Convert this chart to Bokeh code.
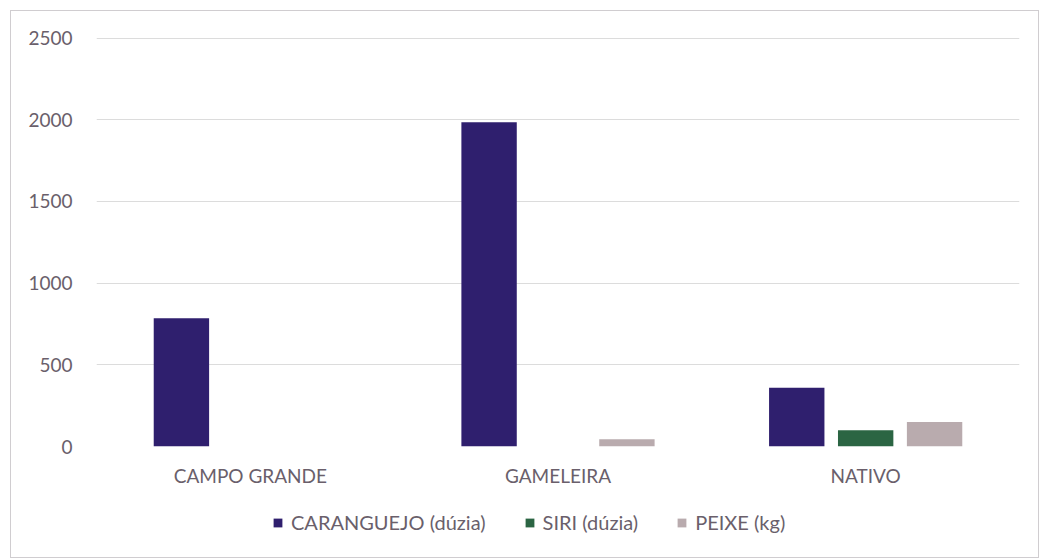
from bokeh.plotting import figure
from bokeh.layouts import column
from bokeh.models import ColumnDataSource, FactorRange, Legend, LegendItem, Range1d, FixedTicker
from bokeh.transform import dodge
from bokeh.embed import file_html
from bokeh.resources import INLINE

categories = ["CAMPO GRANDE", "GAMELEIRA", "NATIVO"]
series_names = ["CARANGUEJO (dúzia)", "SIRI (dúzia)", "PEIXE (kg)"]
caranguejo = [785, 1985, 360]
siri = [0, 0, 100]
peixe = [0, 45, 150]
y_ticks = [0, 500, 1000, 1500, 2000, 2500]

colors = ["#2f1f6e", "#2b6543", "#b9abae"]
FONT = "Lato"
TEXT = "#6a5f6b"

source = ColumnDataSource(dict(cat=categories, car=caranguejo, siri=siri, peixe=peixe))

W = 1027
p = figure(x_range=FactorRange(*categories, range_padding=0), y_range=Range1d(0, 2504),
           width=W, height=480, output_backend="svg", toolbar_location=None,
           min_border_left=85, min_border_right=19, min_border_top=26, min_border_bottom=45)

step = 0.224
w = 0.18
r1 = p.vbar(x=dodge("cat", -step, range=p.x_range), top="car", width=w, source=source,
            fill_color=colors[0], line_color=None)
r2 = p.vbar(x=dodge("cat", 0, range=p.x_range), top="siri", width=w, source=source,
            fill_color=colors[1], line_color=None)
r3 = p.vbar(x=dodge("cat", step, range=p.x_range), top="peixe", width=w, source=source,
            fill_color=colors[2], line_color=None)

p.outline_line_color = None
p.xgrid.grid_line_color = None
p.ygrid.grid_line_color = "#dcdcdc"
p.ygrid.grid_line_width = 1
p.yaxis.ticker = FixedTicker(ticks=y_ticks)

for ax in (p.xaxis, p.yaxis):
    ax.axis_line_color = None
    ax.major_tick_line_color = None
    ax.minor_tick_line_color = None
    ax.major_label_text_font = FONT
    ax.major_label_text_font_size = "19px"
    ax.major_label_text_color = TEXT
p.yaxis.major_label_standoff = 18
p.xaxis.major_label_standoff = 11

# legend strip below the chart (legend glyphs come from off-screen proxy renderers)
lg = figure(width=W, height=66, output_backend="svg", toolbar_location=None,
            x_range=Range1d(0, 1), y_range=Range1d(0, 1),
            min_border_left=0, min_border_right=0, min_border_top=0, min_border_bottom=0)
lg.axis.visible = False
lg.grid.visible = False
lg.outline_line_color = None
proxy = ColumnDataSource(dict(x=[5], top=[0]))
lr = [lg.vbar(x="x", top="top", width=0.1, source=proxy, fill_color=c, line_color=None)
      for c in colors]

legend = Legend(items=[LegendItem(label=n, renderers=[r]) for n, r in zip(series_names, lr)],
                orientation="horizontal", location=(176, 23),
                label_text_font=FONT, label_text_font_size="20px", label_text_color=TEXT,
                glyph_width=11, glyph_height=11, spacing=38, label_standoff=8,
                border_line_color=None, background_fill_alpha=0, margin=0, padding=2)
lg.add_layout(legend, "center")

layout = column(p, lg, spacing=0, margin=(10, 0, 0, 10))
layout.styles = {"border": "1px solid #d0cdd0"}

open("out.html", "w").write(file_html(layout, INLINE))
